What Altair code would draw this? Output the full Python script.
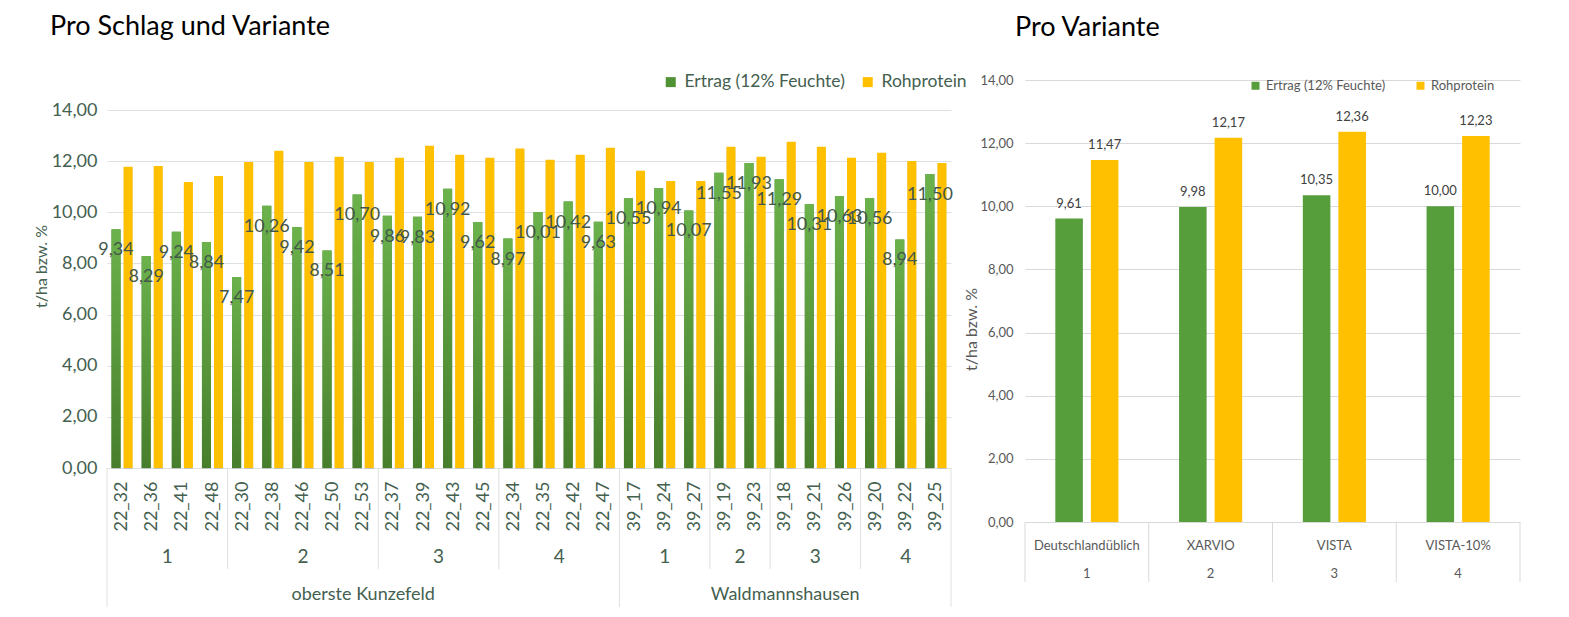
import altair as alt
import pandas as pd

# ---------------- data ----------------
schlag = ["22_32", "22_36", "22_41", "22_48", "22_30", "22_38", "22_46", "22_50", "22_53",
          "22_37", "22_39", "22_43", "22_45", "22_34", "22_35", "22_42", "22_47",
          "39_17", "39_24", "39_27", "39_19", "39_23", "39_18", "39_21", "39_26",
          "39_20", "39_22", "39_25"]
variante_nr = [1, 1, 1, 1, 2, 2, 2, 2, 2, 3, 3, 3, 3, 4, 4, 4, 4,
               1, 1, 1, 2, 2, 3, 3, 3, 4, 4, 4]
standort = ["oberste Kunzefeld"] * 17 + ["Waldmannshausen"] * 11
ertrag = [9.34, 8.29, 9.24, 8.84, 7.47, 10.26, 9.42, 8.51, 10.70, 9.86, 9.83, 10.92, 9.62,
          8.97, 10.01, 10.42, 9.63, 10.55, 10.94, 10.07, 11.55, 11.93, 11.29, 10.31, 10.63,
          10.56, 8.94, 11.50]
protein = [11.78, 11.81, 11.18, 11.42, 11.97, 12.41, 11.97, 12.17, 11.97, 12.13, 12.60, 12.25,
           12.13, 12.49, 12.05, 12.25, 12.52, 11.62, 11.22, 11.22, 12.56, 12.17, 12.76, 12.56,
           12.13, 12.33, 12.01, 11.93]

serien = ["Ertrag (12% Feuchte)", "Rohprotein"]

var_namen = ["Deutschlandüblich", "XARVIO", "VISTA", "VISTA-10%"]
var_nummer = ["1", "2", "3", "4"]
ertrag_v = [9.61, 9.98, 10.35, 10.00]
protein_v = [11.47, 12.17, 12.36, 12.23]

y_ticks = [0, 2, 4, 6, 8, 10, 12, 14]

# ---------------- styles ----------------
FONT = "Lato"
TXT_L = "#44604F"
LBL_L = "#43584B"
TXT_R = "#595959"
GREEN = "#4F9334"
GREEN_R = "#559E3B"
YELLOW = "#FFC000"
GRID_L = "#DCE3DF"
GRID_R = "#D9D9D9"

W_L, H_L, TOP_L = 844, 388, 30   # left plot: bottom at H_L, value 14 at TOP_L
W_R, H_R = 495, 442

de_fmt = "replace(format(datum.value, '.2f'), '.', ',')"


def de(v):
    return f"{v:.2f}".replace(".", ",")


def runs(keys):
    out, start = [], 0
    for i in range(1, len(keys) + 1):
        if i == len(keys) or keys[i] != keys[start]:
            out.append((keys[start], start, i))
            start = i
    return out


# ---------------- left chart tables ----------------
rows = []
for i, s in enumerate(schlag):
    rows.append(dict(schlag=s, serie=serien[0], wert=ertrag[i], label=de(ertrag[i])))
    rows.append(dict(schlag=s, serie=serien[1], wert=protein[i], label=de(protein[i])))
left_df = pd.DataFrame(rows)

grp = runs(list(zip(standort, variante_nr)))
outer = runs(standort)
grp_df = pd.DataFrame([dict(text=str(k[1]), mid=(a + b) / 2) for k, a, b in grp])
outer_df = pd.DataFrame([dict(text=k, mid=(a + b) / 2) for k, a, b in outer])
outer_starts = [a for _, a, _ in outer] + [len(schlag)]
inner_sep_df = pd.DataFrame([dict(pos=a) for _, a, _ in grp if a not in outer_starts])
outer_sep_df = pd.DataFrame([dict(pos=a) for a in outer_starts])

n_l = len(schlag)

x_band_l = alt.X("schlag:N", sort=schlag,
                 scale=alt.Scale(paddingInner=0.3, paddingOuter=0.15),
                 axis=alt.Axis(title=None, labelAngle=-90, labelFontSize=18, labelFont=FONT,
                               labelColor=TXT_L, ticks=False, domain=True,
                               domainColor=GRID_L, labelPadding=13, grid=False))
xoff_l = alt.XOffset("serie:N", sort=serien,
                     scale=alt.Scale(domain=serien, paddingInner=0.25, paddingOuter=0))
y_l = alt.Y("wert:Q", scale=alt.Scale(domain=[0, 14], nice=False, range=[H_L, TOP_L]),
            axis=alt.Axis(values=y_ticks, labelExpr=de_fmt, grid=True, gridColor=GRID_L,
                          domain=False, ticks=False, labelFontSize=18, labelFont=FONT,
                          labelColor=TXT_L, labelPadding=10, title="t/ha bzw. %",
                          titleFontSize=16, titleFont=FONT, titleFontWeight="normal",
                          titleColor=TXT_L, titlePadding=2, titleY=186))

base_l = alt.Chart(left_df)
shadow_l = base_l.mark_bar(color="#000000", opacity=0.13, xOffset=2, yOffset=1).encode(
    x=x_band_l, xOffset=xoff_l, y=y_l)
bars_l = base_l.mark_bar().encode(
    x=x_band_l, xOffset=xoff_l, y=y_l,
    color=alt.Color("serie:N", scale=alt.Scale(domain=serien, range=[GREEN, YELLOW]),
                    legend=alt.Legend(title=None, orient="none", legendX=555, legendY=-7,
                                      direction="horizontal", symbolType="square",
                                      symbolSize=100, symbolStrokeWidth=0,
                                      labelFontSize=17.5, labelFont=FONT, labelColor=TXT_L,
                                      labelLimit=400, columnPadding=14, labelOffset=5)))
green_grad = alt.Gradient(gradient="linear",
                          stops=[alt.GradientStop(color="#6BB24C", offset=0),
                                 alt.GradientStop(color="#477E2C", offset=1)],
                          x1=0, x2=0, y1=0, y2=1)
grad_l = base_l.transform_filter(alt.datum.serie == serien[0]).mark_bar(
    color=green_grad).encode(x=x_band_l, xOffset=xoff_l, y=y_l)
vals_l = base_l.transform_filter(alt.datum.serie == serien[0]).mark_text(
    baseline="middle", dy=21, fontSize=18, font=FONT, color=LBL_L).encode(
    x=x_band_l, xOffset=xoff_l, y=y_l, text="label:N")

main_l = alt.layer(shadow_l, bars_l, grad_l, vals_l)

xq_l = alt.Scale(domain=[0, n_l], nice=False, zero=False)
grp_text = alt.Chart(grp_df).mark_text(fontSize=19, font=FONT, color=TXT_L).encode(
    x=alt.X("mid:Q", scale=xq_l, axis=None), y=alt.value(H_L + 89), text="text:N")
outer_text = alt.Chart(outer_df).mark_text(fontSize=18, font=FONT, color=TXT_L).encode(
    x=alt.X("mid:Q", scale=xq_l, axis=None), y=alt.value(H_L + 127), text="text:N")
inner_sep = alt.Chart(inner_sep_df).mark_rule(color=GRID_L).encode(
    x=alt.X("pos:Q", scale=xq_l, axis=None), y=alt.value(H_L), y2=alt.value(H_L + 101))
outer_sep = alt.Chart(outer_sep_df).mark_rule(color=GRID_L).encode(
    x=alt.X("pos:Q", scale=xq_l, axis=None), y=alt.value(H_L), y2=alt.value(H_L + 139))
annot_l = alt.layer(inner_sep, outer_sep, grp_text, outer_text)

left = alt.layer(main_l, annot_l).resolve_scale(x="independent").properties(
    width=W_L, height=H_L,
    title=alt.TitleParams("Pro Schlag und Variante", anchor="start", frame="group", dx=-57,
                          fontSize=27, fontWeight="normal", font=FONT, color="#000000",
                          offset=11, baseline="alphabetic"))

# ---------------- right chart ----------------
rrows = []
for i, v in enumerate(var_namen):
    rrows.append(dict(variante=v, reihe=serien[0], wert=ertrag_v[i], label=de(ertrag_v[i])))
    rrows.append(dict(variante=v, reihe=serien[1], wert=protein_v[i], label=de(protein_v[i])))
right_df = pd.DataFrame(rrows)
n_r = len(var_namen)
cat_df = pd.DataFrame([dict(name=var_namen[i], nr=var_nummer[i], mid=i + 0.5)
                       for i in range(n_r)])
sep_r_df = pd.DataFrame([dict(pos=i) for i in range(n_r + 1)])

x_band_r = alt.X("variante:N", sort=var_namen,
                 scale=alt.Scale(paddingInner=0.49, paddingOuter=0.245), axis=None)
xoff_r = alt.XOffset("reihe:N", sort=serien,
                     scale=alt.Scale(domain=serien, paddingInner=0.225, paddingOuter=0))
y_r = alt.Y("wert:Q", scale=alt.Scale(domain=[0, 14], nice=False),
            axis=alt.Axis(values=y_ticks, labelExpr=de_fmt, grid=True, gridColor=GRID_R,
                          domain=False, ticks=False, labelFontSize=13, labelFont=FONT,
                          labelColor=TXT_R, labelPadding=12, title="t/ha bzw. %",
                          titleFontSize=16, titleFont=FONT, titleFontWeight="normal",
                          titleColor=TXT_R, titlePadding=0, titleY=249))
base_r = alt.Chart(right_df)
bars_r = base_r.mark_bar().encode(
    x=x_band_r, xOffset=xoff_r, y=y_r,
    color=alt.Color("reihe:N", scale=alt.Scale(domain=serien, range=[GREEN_R, YELLOW]),
                    legend=alt.Legend(title=None, orient="none", legendX=224, legendY=-1,
                                      direction="horizontal", symbolType="square",
                                      symbolSize=64, symbolStrokeWidth=0,
                                      labelFontSize=13, labelFont=FONT, labelColor=TXT_R,
                                      labelLimit=400, columnPadding=28, labelOffset=4)))
vals_r = base_r.mark_text(baseline="middle", dy=-15, fontSize=13, font=FONT,
                          color="#404040").encode(x=x_band_r, xOffset=xoff_r, y=y_r,
                                                  text="label:N")
main_r = alt.layer(bars_r, vals_r)

xq_r = alt.Scale(domain=[0, n_r], nice=False, zero=False)
name_text = alt.Chart(cat_df).mark_text(fontSize=13, font=FONT, color=TXT_R).encode(
    x=alt.X("mid:Q", scale=xq_r, axis=None), y=alt.value(H_R + 24), text="name:N")
nr_text = alt.Chart(cat_df).mark_text(fontSize=13, font=FONT, color=TXT_R).encode(
    x=alt.X("mid:Q", scale=xq_r, axis=None), y=alt.value(H_R + 52), text="nr:N")
sep_r = alt.Chart(sep_r_df).mark_rule(color=GRID_R).encode(
    x=alt.X("pos:Q", scale=xq_r, axis=None), y=alt.value(H_R), y2=alt.value(H_R + 60))
annot_r = alt.layer(sep_r, name_text, nr_text)

right = alt.layer(main_r, annot_r).resolve_scale(x="independent").properties(
    width=W_R, height=H_R,
    title=alt.TitleParams("Pro Variante", anchor="start", frame="group", dx=-10,
                          fontSize=27, fontWeight="normal", font=FONT, color="#000000",
                          offset=11, baseline="alphabetic"))

chart = alt.hconcat(left, right, spacing=74, bounds="flush").resolve_scale(
    color="independent", xOffset="independent").properties(
    padding={"left": 25, "top": 5, "right": 0, "bottom": 0}
).configure_view(stroke=None)

chart.save("out.html", embed_options={"renderer": "svg", "actions": False})
